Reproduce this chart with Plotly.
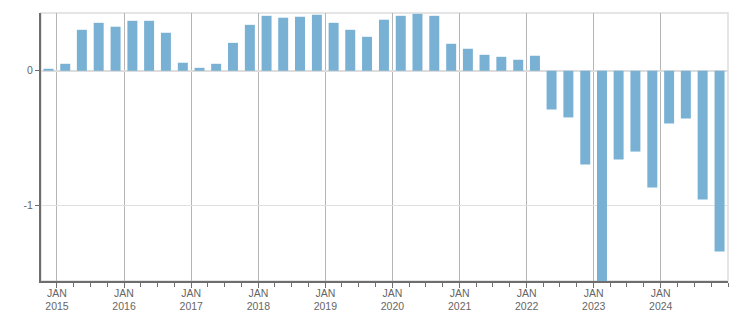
import plotly.graph_objects as go

# Quarter start dates (Q4 2014 .. Q4 2024)
quarters = [f"{y}-{m:02d}-01" for y in range(2014, 2025) for m in (1, 4, 7, 10)][3:]

values = [
    0.015, 0.052, 0.305, 0.357, 0.328, 0.372, 0.372, 0.283, 0.060, 0.022,
    0.052, 0.208, 0.342, 0.409, 0.395, 0.402, 0.417, 0.357, 0.305, 0.253,
    0.380, 0.409, 0.424, 0.409, 0.201, 0.164, 0.119, 0.104, 0.082, 0.112,
    -0.288, -0.347, -0.698, -1.65, -0.660, -0.601, -0.869, -0.392, -0.355, -0.958,
    -1.345,
]

year_ticks = [f"{y}-01-01" for y in range(2015, 2025)]
year_labels = [f"JAN<br>{y}" for y in range(2015, 2025)]

y_ticks = [0, -1]
y_labels = ["0", "-1"]

AXIS = "#6e6e6e"
TEXT = "#666666"

fig = go.Figure(
    go.Bar(
        x=quarters,
        y=values,
        xperiod="M3",
        xperiod0="2014-10-01",
        xperiodalignment="middle",
        marker=dict(color="#78b1d3", line=dict(width=0)),
    )
)

fig.update_layout(
    width=751,
    height=313,
    margin=dict(l=41, r=23, t=13, b=32, autoexpand=False),
    paper_bgcolor="white",
    plot_bgcolor="white",
    bargap=0.4,
    showlegend=False,
    font=dict(family="Tahoma, 'Liberation Sans', Arial, sans-serif", size=10.5, color=TEXT),
    shapes=[
        dict(type="rect", xref="paper", yref="paper", x0=0, x1=1, y0=0, y1=1,
             line=dict(color="#dddddd", width=1.5), layer="below"),
    ],
)

fig.update_xaxes(
    type="date",
    range=["2014-10-06", "2025-01-01"],
    tickmode="array",
    tickvals=year_ticks,
    ticktext=year_labels,
    ticks="outside",
    ticklen=5,
    tickwidth=1,
    tickcolor=AXIS,
    ticklabelstandoff=-4,
    showgrid=True,
    gridcolor="#b5b5b5",
    gridwidth=1,
    showline=True,
    linecolor=AXIS,
    linewidth=2,
    automargin=False,
    minor=dict(dtick="M3", tick0="2015-01-01", ticks="outside", ticklen=4,
               tickcolor=AXIS, tickwidth=1, showgrid=False),
    tickfont=dict(size=10.5, color=TEXT),
    fixedrange=True,
)

fig.update_yaxes(
    range=[-1.564, 0.43],
    tickmode="array",
    tickvals=y_ticks,
    ticktext=y_labels,
    ticks="outside",
    ticklen=4,
    tickcolor=AXIS,
    showgrid=True,
    gridcolor="#e0e0e0",
    gridwidth=1,
    zeroline=True,
    zerolinecolor="#dddddd",
    zerolinewidth=1.5,
    showline=True,
    linecolor=AXIS,
    linewidth=2,
    automargin=False,
    tickfont=dict(size=10.5, color=TEXT),
    fixedrange=True,
)

fig.write_html("out.html")
